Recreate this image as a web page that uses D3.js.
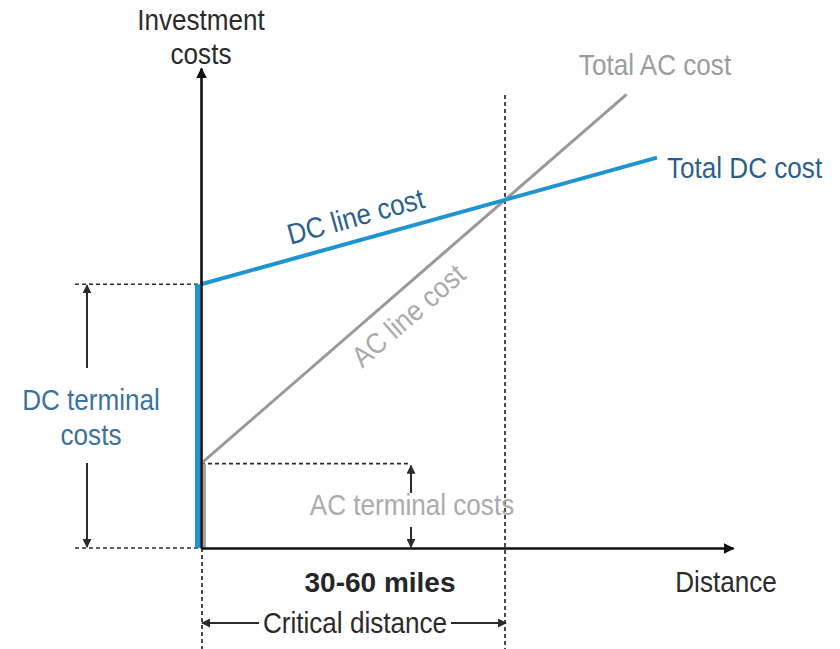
<!DOCTYPE html>
<html>
<head>
<meta charset="utf-8">
<script src="https://cdn.jsdelivr.net/npm/d3@7"></script>
<style>
  html, body { margin: 0; padding: 0; background: #fff; }
  svg { display: block; }
  text { font-family: "Liberation Sans", Arial, sans-serif; }
</style>
</head>
<body>
<svg id="chart" width="840" height="649"></svg>
<script>
// Cost model: investment cost vs. transmission distance (arbitrary units)
const acDistance = [0, 10, 14];
const acCost = [3.2, 13.2, 17.2];
const dcDistance = [0, 10, 15];
const dcCost = [10, 13.2, 14.8];
const acTerminal = 3.2;
const dcTerminal = 10;
const criticalDistance = 10;
const distanceMax = 17.5;
const costMax = 18.2;

const svg = d3.select("#chart");
const x = d3.scaleLinear().domain([0, distanceMax]).range([201, 733]);
const y = d3.scaleLinear().domain([0, costMax]).range([548, 68]);

const DARK = "#2b2b2b", GRAY = "#a3a3a3", BLUE = "#1f94d2", BLUE_TEXT = "#2d5f8c";
const SX = 0.9; // slightly condensed lettering

// arrowheads
const defs = svg.append("defs");
function marker(id, size, color) {
  defs.append("marker")
    .attr("id", id).attr("viewBox", "0 0 10 10")
    .attr("refX", 9).attr("refY", 5)
    .attr("markerWidth", size).attr("markerHeight", size)
    .attr("markerUnits", "userSpaceOnUse")
    .attr("orient", "auto-start-reverse")
    .append("path").attr("d", "M0,0L10,5L0,10Z").attr("fill", color);
}
marker("axisHead", 11, "#111");
marker("dimHead", 9, DARK);

function label(text, px, py, o = {}) {
  return svg.append("text")
    .attr("transform", `translate(${px},${py}) rotate(${o.rotate || 0}) scale(${o.sx || SX},1)`)
    .attr("text-anchor", o.anchor || "middle")
    .attr("font-size", o.size || 29)
    .attr("font-weight", o.weight || "normal")
    .attr("fill", o.color || DARK)
    .text(text);
}

function dashed(x1, y1, x2, y2) {
  svg.append("line")
    .attr("x1", x1).attr("y1", y1).attr("x2", x2).attr("y2", y2)
    .attr("stroke", DARK).attr("stroke-width", 1.7)
    .attr("stroke-dasharray", "4,3");
}

function dim(x1, y1, x2, y2, start, end) {
  const l = svg.append("line")
    .attr("x1", x1).attr("y1", y1).attr("x2", x2).attr("y2", y2)
    .attr("stroke", DARK).attr("stroke-width", 2);
  if (start) l.attr("marker-start", "url(#dimHead)");
  if (end) l.attr("marker-end", "url(#dimHead)");
}

// reference dashes
dashed(75, y(dcTerminal), x(0), y(dcTerminal));
dashed(75, y(0), x(0), y(0));
dashed(x(0), y(acTerminal), 411, y(acTerminal));
dashed(x(0) + 1, y(0), x(0) + 1, 649);
dashed(x(criticalDistance), 95, x(criticalDistance), 649);

// terminal cost bars at zero distance
svg.append("line")
  .attr("x1", x(0) - 3.5).attr("x2", x(0) - 3.5)
  .attr("y1", y(0)).attr("y2", y(dcTerminal))
  .attr("stroke", BLUE).attr("stroke-width", 5);
svg.append("line")
  .attr("x1", x(0) + 3).attr("x2", x(0) + 3)
  .attr("y1", y(0)).attr("y2", y(acTerminal))
  .attr("stroke", GRAY).attr("stroke-width", 4);

// cost lines
const line = d3.line().x(d => x(d[0])).y(d => y(d[1]));
const acPts = d3.zip(acDistance, acCost);
const dcPts = d3.zip(dcDistance, dcCost);
svg.append("path").datum(acPts).attr("d", line)
  .attr("fill", "none").attr("stroke", "#999").attr("stroke-width", 3);
svg.append("path").datum(dcPts).attr("d", line)
  .attr("fill", "none").attr("stroke", BLUE).attr("stroke-width", 4);

// axes (no ticks, arrow-ended domain lines)
const xAxis = svg.append("g").attr("transform", `translate(0,${y(0)})`)
  .call(d3.axisBottom(x).tickValues([]).tickSizeOuter(0));
const yAxis = svg.append("g").attr("transform", `translate(${x(0)},0)`)
  .call(d3.axisLeft(y).tickValues([]).tickSizeOuter(0));
[xAxis, yAxis].forEach(g => g.select(".domain")
  .attr("stroke", "#111").attr("stroke-width", 2.6)
  .attr("marker-end", "url(#axisHead)"));

// dimension arrows
dim(87, y(dcTerminal) + 1, 87, 368, true, false);
dim(87, 463, 87, y(0) - 1, false, true);
dim(411, y(acTerminal) + 2, 411, 493, true, false);
dim(411, 527, 411, y(0) - 1, false, true);
dim(x(0) + 1, 623, 259, 623, true, false);
dim(451, 623, x(criticalDistance) + 1, 623, false, true);

// labels along the cost lines
function alongLabel(text, pts, d, offset, color) {
  const p0 = [x(pts[0][0]), y(pts[0][1])];
  const p1 = [x(pts[pts.length - 1][0]), y(pts[pts.length - 1][1])];
  const ang = Math.atan2(p1[1] - p0[1], p1[0] - p0[0]);
  const t = (x(d) - p0[0]) / (p1[0] - p0[0]);
  const bx = p0[0] + t * (p1[0] - p0[0]);
  const by = p0[1] + t * (p1[1] - p0[1]);
  // normal pointing below the line
  const nx = -Math.sin(ang), ny = Math.cos(ang);
  label(text, bx + nx * offset, by + ny * offset,
    { rotate: ang * 180 / Math.PI, color });
}
alongLabel("DC line cost", dcPts, 5.3, -14, BLUE_TEXT);
alongLabel("AC line cost", acPts, 6.3, 34, "#ababab");

// text
label("Investment", 201, 30);
label("costs", 201, 64);
label("Total AC cost", 655, 75, { color: "#9c9c9c" });
label("Total DC cost", 667, 178, { anchor: "start", color: BLUE_TEXT });
label("Distance", 726, 592);
label("DC terminal", 91, 410, { color: "#3b72a0" });
label("costs", 91, 445, { color: "#3b72a0" });
label("AC terminal costs", 412, 515, { color: "#ababab" });
label("30-60 miles", 380, 592, { weight: "bold", sx: 1, size: 28, color: "#262626" });
label("Critical distance", 355, 633);
</script>
</body>
</html>
